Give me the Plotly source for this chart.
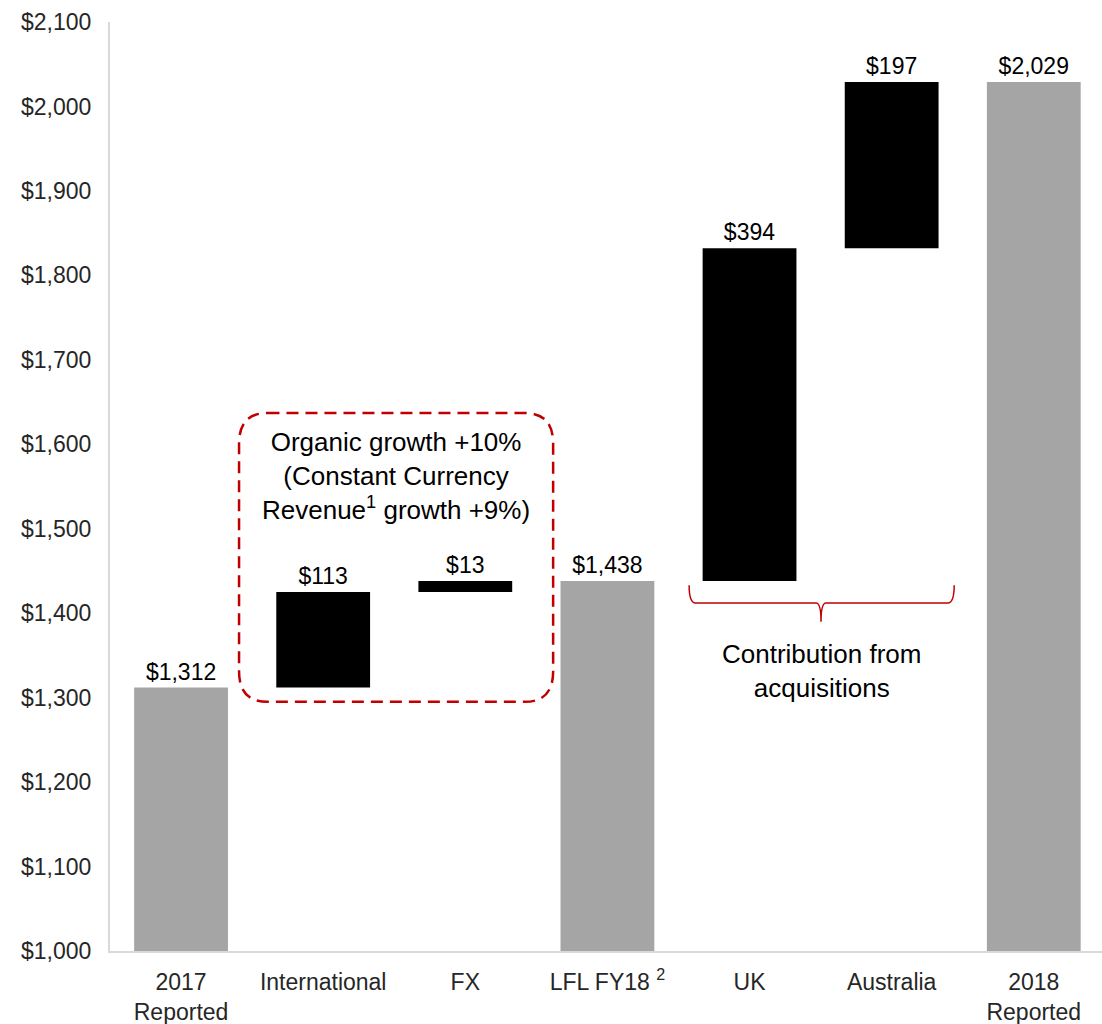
import plotly.graph_objects as go

# Revenue bridge, 2017 reported to 2018 reported ($m)
categories = ["2017<br>Reported", "International", "FX", "LFL FY18 <sup>2</sup>",
              "UK", "Australia", "2018<br>Reported"]
revenue_2017 = 1312
organic_steps = [113, 13]          # International, FX
acquisition_steps = [394, 197]     # UK, Australia
y_ticks = list(range(1000, 2101, 100))
y_tick_labels = [f"${v:,}" for v in y_ticks]

GREY = "#a5a5a5"
BLACK = "#000000"
RED = "#c00000"
FONT = "Liberation Sans, Arial, sans-serif"

# Build bar bases / heights from the running total
bases, heights, colors, labels = [], [], [], []
AXIS_MIN = 1000


def add_total(v):
    bases.append(AXIS_MIN)
    heights.append(v - AXIS_MIN)
    colors.append(GREY)
    labels.append(f"${v:,}")


def add_step(start, d):
    bases.append(start)
    heights.append(d)
    colors.append(BLACK)
    labels.append(f"${d:,}")


running = revenue_2017
add_total(running)
for d in organic_steps:
    add_step(running, d)
    running += d
add_total(running)
for d in acquisition_steps:
    add_step(running, d)
    running += d
add_total(running)

fig = go.Figure(go.Bar(
    x=list(range(len(categories))),
    y=heights,
    base=bases,
    marker=dict(color=colors, line=dict(width=0)),
    text=labels,
    textposition="outside",
    textfont=dict(size=23, color="#000000", family=FONT),
    cliponaxis=False,
    width=0.66,
))

# Dashed rounded box around the organic-growth steps
x0, x1, y0, y1 = 0.408, 2.618, 1295, 1637
rx, ry = 0.2, 36
box_path = (f"M {x0+rx},{y1} L {x1-rx},{y1} Q {x1},{y1} {x1},{y1-ry} "
            f"L {x1},{y0+ry} Q {x1},{y0} {x1-rx},{y0} "
            f"L {x0+rx},{y0} Q {x0},{y0} {x0},{y0+ry} "
            f"L {x0},{y1-ry} Q {x0},{y1} {x0+rx},{y1} Z")

# Brace under the acquisition steps
bl, br, bc = 3.575, 5.44, 4.503
bt, bm, btip = 1433, 1412, 1390
brace_path = (f"M {bl},{bt} Q {bl},{bm} {bl+0.045},{bm} L {bc-0.035},{bm} "
              f"Q {bc},{bm} {bc},{btip} Q {bc},{bm} {bc+0.035},{bm} "
              f"L {br-0.045},{bm} Q {br},{bm} {br},{bt}")

fig.update_layout(
    shapes=[
        dict(type="path", path=box_path, xref="x", yref="y",
             line=dict(color=RED, width=2.5, dash="12px,7px")),
        dict(type="path", path=brace_path, xref="x", yref="y",
             line=dict(color=RED, width=1.5)),
    ],
    annotations=[
        dict(x=1.513, y=1562, xref="x", yref="y", showarrow=False,
             text="Organic growth +10%<br>(Constant Currency<br>Revenue<sup>1</sup> growth +9%)",
             font=dict(size=26, color="#000000", family=FONT),
             align="center", xanchor="center", yanchor="middle"),
        dict(x=4.503, y=1332, xref="x", yref="y", showarrow=False,
             text="Contribution from<br>acquisitions",
             font=dict(size=26, color="#000000", family=FONT),
             align="center", xanchor="center", yanchor="middle"),
    ],
    width=1102, height=1024,
    margin=dict(l=110, r=0, t=22, b=73),
    plot_bgcolor="white", paper_bgcolor="white",
    showlegend=False,
    font=dict(family=FONT, size=23, color="#262626"),
    xaxis=dict(
        range=[-0.5, 6.48],
        tickmode="array",
        tickvals=list(range(len(categories))),
        ticktext=categories,
        showline=True, linecolor="#d9d9d9", linewidth=2,
        showgrid=False, zeroline=False, ticks="",
        ticklabelstandoff=9,
        tickfont=dict(size=23, color="#262626", family=FONT),
    ),
    yaxis=dict(
        range=[1000, 2100],
        tickmode="array",
        tickvals=y_ticks,
        ticktext=y_tick_labels,
        showline=True, linecolor="#d9d9d9", linewidth=2,
        showgrid=False, zeroline=False, ticks="",
        ticklabelstandoff=12,
        tickfont=dict(size=23, color="#262626", family=FONT),
    ),
)

fig.write_html("out.html")
